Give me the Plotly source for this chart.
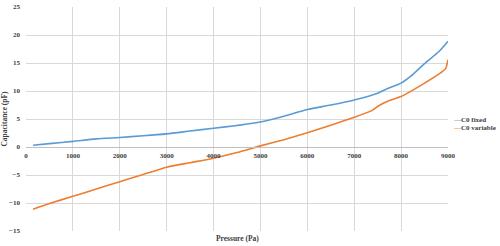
import plotly.graph_objects as go

pressure_fixed = [150, 500, 1000, 1500, 2000, 2500, 3000, 3500, 4000, 4500, 5000, 5500, 6000, 6500, 7000, 7500, 7700, 8000, 8200, 8500, 8800, 9000]
cap_fixed = [0.3, 0.6, 1.0, 1.45, 1.7, 2.0, 2.35, 2.85, 3.35, 3.85, 4.45, 5.5, 6.7, 7.5, 8.4, 9.6, 10.4, 11.4, 12.6, 14.9, 17.0, 18.9]

pressure_var = [150, 500, 1000, 1500, 2000, 2500, 3000, 3500, 4000, 4500, 5000, 5500, 6000, 6500, 7000, 7350, 7550, 7750, 8000, 8500, 8800, 8950, 9000]
cap_var = [-11.1, -10.1, -8.8, -7.5, -6.2, -4.9, -3.6, -2.8, -2.0, -1.0, 0.2, 1.3, 2.55, 3.9, 5.3, 6.4, 7.5, 8.3, 9.0, 11.4, 13.0, 14.0, 15.6]

series_names = ["C0 fixed", "C0 variable"]
colors = ["#5B9BD5", "#ED7D31"]

x_ticks = list(range(0, 9001, 1000))
y_ticks = list(range(-15, 26, 5))

FONT = "Liberation Serif"

fig = go.Figure()
fig.add_trace(go.Scatter(x=pressure_fixed, y=cap_fixed, mode="lines", name=series_names[0],
                         line=dict(color=colors[0], width=1.6, shape="spline", smoothing=0.7)))
fig.add_trace(go.Scatter(x=pressure_var, y=cap_var, mode="lines", name=series_names[1],
                         line=dict(color=colors[1], width=1.6, shape="spline", smoothing=0.5)))

fig.update_layout(
    width=500, height=246,
    margin=dict(l=26, r=52, t=7, b=15, autoexpand=False),
    paper_bgcolor="white", plot_bgcolor="white",
    showlegend=False,
    font=dict(family=FONT, size=7, color="#404040"),
    xaxis=dict(range=[0, 9000], tickvals=x_ticks, showgrid=True, gridcolor="#D9D9D9", gridwidth=1,
               zeroline=False, showline=True, linecolor="#BFBFBF", linewidth=1,
               anchor="free", position=0.375, ticks="", ticklabelstandoff=2, automargin=False,
               tickfont=dict(family=FONT, size=7, color="#404040", weight="bold")),
    yaxis=dict(range=[-15, 25], tickvals=y_ticks, showgrid=True, gridcolor="#D9D9D9", gridwidth=1,
               zeroline=False, showline=False, ticks="", ticklabelstandoff=5, automargin=False,
               tickfont=dict(family=FONT, size=7, color="#404040", weight="bold"),
               title=dict(text="Capacitance (pF)", standoff=4,
                          font=dict(family=FONT, size=7.5, color="#404040", weight="bold"))),
)

fig.add_annotation(text="Pressure (Pa)", xref="paper", yref="paper", x=0.5, y=0, yshift=-7,
                   showarrow=False, yanchor="middle",
                   font=dict(family=FONT, size=7.5, color="#404040", weight="bold"))

for i, (name, c) in enumerate(zip(series_names, colors)):
    fig.add_annotation(text=f'<span style="color:{c}">\u2014</span>{name}', xref="paper", yref="paper",
                       x=1.0, xshift=3, y=0.496 - i * 0.034, xanchor="left", yanchor="middle",
                       showarrow=False, font=dict(family=FONT, size=7, color="#404040", weight="bold"))

fig.write_html("out.html", config={"displayModeBar": False},
               post_script="document.body.style.margin='0px';document.body.style.overflow='hidden';")
